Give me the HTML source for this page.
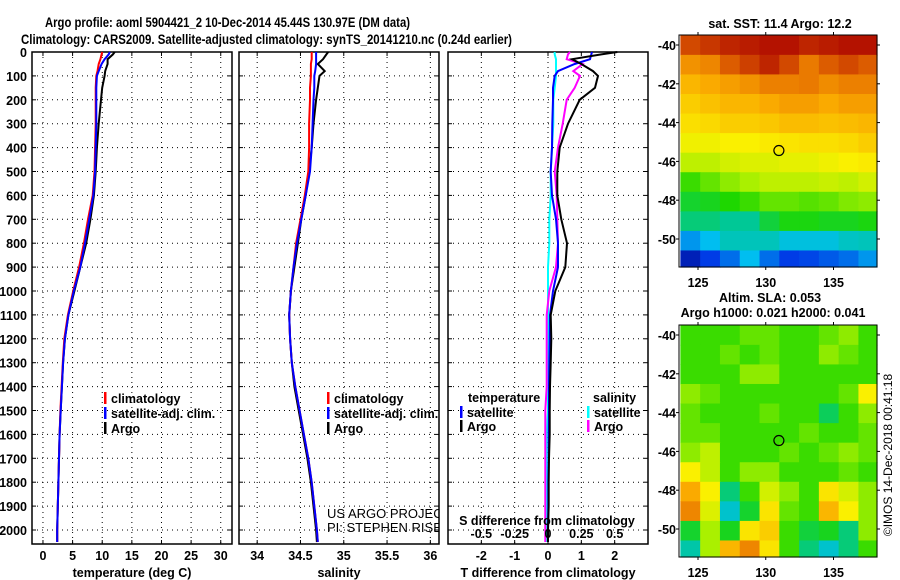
<!DOCTYPE html>
<html><head><meta charset="utf-8"><style>
body{margin:0;background:#fff;}
svg{display:block;font-family:"Liberation Sans",Arial,sans-serif;font-weight:bold;}
</style></head><body>
<svg id="chart" width="900" height="580" viewBox="0 0 900 580">
<defs><clipPath id="p2clip"><rect x="239" y="52" width="200" height="492"/></clipPath></defs>
<text x="45" y="27" font-size="13.5" textLength="365" lengthAdjust="spacingAndGlyphs">Argo profile: aoml 5904421_2 10-Dec-2014 45.44S 130.97E (DM data)</text>
<text x="21" y="44" font-size="13.5" textLength="491" lengthAdjust="spacingAndGlyphs">Climatology: CARS2009. Satellite-adjusted climatology: synTS_20141210.nc (0.24d earlier)</text>
<g id="g"></g>
</svg>
<script>
// ---------- data ----------
const depthTicks=[0,100,200,300,400,500,600,700,800,900,1000,1100,1200,1300,1400,1500,1600,1700,1800,1900,2000];
const tempTicks=[0,5,10,15,20,25,30];
const salTicks=[34,34.5,35,35.5,36];
const tdiffTicks=[-2,-1,0,1,2];
const sdiffTicks=[-0.5,-0.25,0,0.25,0.5];
const sdiffTickLabels=["-0.5","-0.25","0","0.25","0.5"];
const depths=[0,10,30,50,80,100,150,200,300,400,500,600,700,800,900,1000,1100,1200,1300,1400,1500,1600,1700,1800,1900,2000,2050];
const tempArgo=[12.1,11.8,10.9,10.9,10.5,10.4,10.0,9.8,9.4,9.1,8.9,8.6,8.0,7.3,6.3,5.3,4.3,3.7,3.4,3.2,3.0,2.8,2.7,2.6,2.5,2.4,2.4];
const tempClim=[10.0,9.9,9.7,9.4,9.2,9.0,8.9,8.9,8.9,8.8,8.7,8.4,7.6,6.9,6.1,5.1,4.2,3.6,3.35,3.15,2.95,2.8,2.7,2.6,2.5,2.4,2.4];
const tempSat=[11.3,11.1,10.4,9.9,9.4,9.1,9.0,9.0,9.0,8.9,8.8,8.5,7.8,7.1,6.3,5.2,4.3,3.7,3.4,3.2,3.0,2.8,2.7,2.6,2.5,2.4,2.4];
const salArgo=[34.82,34.80,34.76,34.70,34.78,34.72,34.70,34.68,34.65,34.63,34.60,34.56,34.51,34.47,34.43,34.39,34.37,34.38,34.40,34.43,34.48,34.53,34.58,34.62,34.65,34.68,34.69];
const salClim=[34.63,34.63,34.63,34.62,34.62,34.62,34.61,34.61,34.60,34.60,34.59,34.55,34.50,34.45,34.42,34.39,34.37,34.38,34.40,34.44,34.49,34.54,34.59,34.63,34.66,34.69,34.70];
const salSat=[34.68,34.68,34.68,34.68,34.67,34.66,34.66,34.65,34.64,34.63,34.61,34.56,34.51,34.46,34.42,34.39,34.37,34.38,34.40,34.44,34.49,34.54,34.59,34.63,34.66,34.69,34.70];
const tdiffArgo=[2.08,1.6,0.72,1.0,1.35,1.5,1.41,0.95,0.6,0.35,0.28,0.28,0.4,0.57,0.52,0.22,0.08,0.1,0.08,0.06,0.05,0.05,0.03,0.02,0.02,0.0,0.0];
const tdiffSat=[1.32,1.3,1.26,0.8,0.3,0.2,0.15,0.15,0.13,0.12,0.08,0.12,0.24,0.3,0.3,0.15,0.06,0.05,0.04,0.03,0.03,0.02,0.02,0.01,0.01,0.0,0.0];
const sdiffSat=[0.05,0.05,0.06,0.06,0.06,0.06,0.05,0.04,0.04,0.03,0.02,0.02,0.01,0.01,0.0,0.0,0.0,0.0,0.0,0.0,0.0,-0.01,-0.01,-0.01,-0.01,-0.01,-0.01];
const sdiffArgo=[0.165,0.15,0.14,0.26,0.19,0.24,0.2,0.14,0.11,0.075,0.05,0.065,0.07,0.075,0.06,0.01,-0.01,-0.01,-0.01,-0.01,-0.02,-0.02,-0.02,-0.02,-0.02,-0.02,-0.02];
const latTicks=[-40,-42,-44,-46,-48,-50];
const lonTicks=[125,130,135];
const argoLon=130.97, argoLat=-45.44;
const sstGrid=[
[0.92,0.94,0.96,0.97,0.98,0.98,0.96,0.97,0.98,0.98],
[0.82,0.84,0.9,0.93,0.96,0.92,0.86,0.9,0.92,0.9],
[0.76,0.78,0.8,0.82,0.85,0.85,0.86,0.83,0.85,0.85],
[0.72,0.74,0.76,0.76,0.78,0.8,0.8,0.78,0.8,0.8],
[0.69,0.7,0.72,0.72,0.73,0.75,0.75,0.74,0.75,0.76],
[0.65,0.65,0.66,0.66,0.67,0.68,0.69,0.69,0.7,0.72],
[0.6,0.6,0.62,0.63,0.63,0.64,0.64,0.65,0.66,0.67],
[0.5,0.53,0.56,0.58,0.6,0.6,0.6,0.61,0.6,0.62],
[0.45,0.46,0.48,0.5,0.53,0.53,0.52,0.53,0.55,0.56],
[0.4,0.4,0.38,0.38,0.44,0.47,0.47,0.46,0.46,0.47],
[0.24,0.28,0.34,0.34,0.34,0.3,0.3,0.3,0.33,0.34],
[0.08,0.15,0.2,0.28,0.2,0.15,0.16,0.18,0.2,0.24]];
const slaGrid=[
[.5,.5,.5,.53,.53,.5,.5,.53,.56,.5],
[.5,.5,.53,.5,.53,.5,.5,.56,.53,.5],
[.5,.5,.5,.56,.56,.5,.5,.5,.5,.5],
[.56,.53,.5,.5,.5,.5,.5,.5,.53,.66],
[.53,.5,.5,.5,.53,.5,.5,.42,.5,.56],
[.53,.53,.5,.5,.5,.5,.53,.5,.5,.53],
[.56,.6,.5,.5,.5,.53,.5,.53,.56,.53],
[.66,.6,.5,.56,.56,.5,.5,.5,.53,.5],
[.78,.66,.4,.5,.62,.56,.5,.68,.62,.56],
[.84,.63,.32,.45,.68,.53,.5,.76,.66,.56],
[.45,.58,.46,.68,.72,.5,.44,.46,.4,.56],
[.36,.58,.76,.84,.68,.5,.4,.32,.4,.5]];

// ---------- helpers ----------
const NS="http://www.w3.org/2000/svg";
const G=document.getElementById('g');
function mk(tag,attrs,parent,txt){const e=document.createElementNS(NS,tag);for(const k in attrs)e.setAttribute(k,attrs[k]);if(txt!==undefined)e.textContent=txt;(parent||G).appendChild(e);return e;}
const PT=52, PB=544;
const yD=d=>PT+d*0.239;
const FS=12.5;
const panels=[
 {name:'temperature',x0:32,x1:232,v0:-1.85,v1:31.9,ticks:tempTicks,labels:tempTicks.map(String),title:'temperature (deg C)'},
 {name:'salinity',x0:239,x1:439,v0:33.79,v1:36.1,ticks:salTicks,labels:salTicks.map(String),title:'salinity'},
 {name:'difference',x0:448,x1:648,v0:-3,v1:3,ticks:tdiffTicks,labels:tdiffTicks.map(String),title:'T difference from climatology'}];
panels.forEach(p=>p.sx=v=>p.x0+(v-p.v0)/(p.v1-p.v0)*(p.x1-p.x0));
const sxS=v=>panels[2].sx(v*4);

panels.forEach((p,i)=>{
  const g=mk('g',{});
  
  
  depthTicks.forEach(d=>{const y=yD(d);
    if(d>0){const l=mk('line',{x1:p.x0,x2:p.x1,y1:y,y2:y,stroke:'#000','stroke-width':1,'stroke-dasharray':'1,4'},g);
      }
    mk('line',{x1:p.x0,x2:p.x0+4,y1:y,y2:y,stroke:'#000'},g);mk('line',{x1:p.x1-4,x2:p.x1,y1:y,y2:y,stroke:'#000'},g);
  });
  p.ticks.forEach((t,j)=>{const x=p.sx(t);
    const l=mk('line',{x1:x,x2:x,y1:PT,y2:PB,stroke:'#000','stroke-dasharray':'1,4'},g);
    
    mk('line',{x1:x,x2:x,y1:PB-4,y2:PB,stroke:'#000'},g);mk('line',{x1:x,x2:x,y1:PT,y2:PT+4,stroke:'#000'},g);
    const tl=mk('text',{x:x,y:560,'font-size':FS,'text-anchor':'middle'},g,p.labels[j]);
    
  });
  const at=mk('text',{x:(p.x0+p.x1)/2,y:577,'font-size':FS,'text-anchor':'middle'},g,p.title);
  
  const fr=mk('rect',{x:p.x0,y:PT,width:p.x1-p.x0,height:PB-PT,fill:'none',stroke:'#000','stroke-width':1.5},g);
  
});
depthTicks.forEach(d=>{const t=mk('text',{x:27,y:yD(d)+5,'font-size':FS,'text-anchor':'end'},G,String(d));
  });

function line(vals,sx,color,name,w){
  const pts=vals.map((v,i)=>sx(v).toFixed(1)+','+yD(depths[i]).toFixed(1)).join(' ');
  const pl=mk('polyline',{points:pts,fill:'none',stroke:color,'stroke-width':w||2});
  
  
}
const P=panels;
line(tempArgo,P[0].sx,'#000','temp-argo-line');
line(tempClim,P[0].sx,'#f00','temp-climatology-line');
line(tempSat,P[0].sx,'#00f','temp-satellite-line');
line(salArgo,P[1].sx,'#000','sal-argo-line');
line(salClim,P[1].sx,'#f00','sal-climatology-line');
line(salSat,P[1].sx,'#00f','sal-satellite-line');
line(sdiffSat,sxS,'#0ff','sdiff-satellite-line');
line(sdiffArgo,sxS,'#f0f','sdiff-argo-line');
line(tdiffSat,P[2].sx,'#00f','tdiff-satellite-line');
line(tdiffArgo,P[2].sx,'#000','tdiff-argo-line');

sdiffTicks.forEach((t,j)=>{const tl=mk('text',{x:sxS(t),y:538,'font-size':FS,'text-anchor':'middle'},G,sdiffTickLabels[j]);
  });
const st=mk('text',{x:547,y:525,'font-size':FS,'text-anchor':'middle'},G,'S difference from climatology');


function legend(x,y,color,label,name){
  const g=mk('g',{});
  
  
  mk('rect',{x:x,y:y-11,width:2.5,height:12,fill:color},g);
  mk('text',{x:x+7,y:y},g,label).setAttribute('font-size',FS);
}
legend(104,403,'#f00','climatology','legend-climatology');
legend(104,418,'#00f','satellite-adj. clim.','legend-satellite-adj');
legend(104,433,'#000','Argo','legend-argo');
legend(327,403,'#f00','climatology','legend-climatology-sal');
legend(327,418,'#00f','satellite-adj. clim.','legend-satellite-adj-sal');
legend(327,433,'#000','Argo','legend-argo-sal');
let tt=mk('text',{x:468,y:402,'font-size':FS},G,'temperature');
tt=mk('text',{x:593,y:402,'font-size':FS},G,'salinity');
legend(460,417,'#00f','satellite','legend-t-satellite');
legend(460,431,'#000','Argo','legend-t-argo');
legend(587,417,'#0ff','satellite','legend-s-satellite');
legend(587,431,'#f0f','Argo','legend-s-argo');
let c1=mk('text',{x:327,y:518,'font-size':13,'font-weight':'normal','clip-path':'url(#p2clip)'},G,'US ARGO PROJECT');
c1=mk('text',{x:327,y:532,'font-size':13,'font-weight':'normal','clip-path':'url(#p2clip)'},G,'PI: STEPHEN RISER');

// ---------- maps ----------
const stops=[[0,[0,0,130]],[0.15,[0,60,230]],[0.28,[0,190,240]],[0.38,[0,200,150]],[0.48,[30,215,0]],[0.58,[170,240,0]],[0.66,[250,240,0]],[0.78,[250,170,0]],[0.88,[230,110,0]],[1,[170,0,0]]];
function cmap(v){for(let i=1;i<stops.length;i++){if(v<=stops[i][0]){const a=stops[i-1],b=stops[i],f=(v-a[0])/(b[0]-a[0]);
  const c=a[1].map((q,k)=>Math.round(q+(b[1][k]-q)*f));return 'rgb('+c.join(',')+')';}}return 'rgb(170,0,0)';}
function map(x0,y0,x1,y1,latAt40,latAt50,grid,name){
  const lonS=v=>698+(v-125)*13.55;
  const latS=v=>latAt40+(v+40)/-10*(latAt50-latAt40);
  const g=mk('g',{});
  
  
  const rows=grid.length,cols=grid[0].length;
  const lon0=123.7,lon1=138.3,lat0=-39.5,lat1=-51.6;
  for(let r=0;r<rows;r++)for(let c=0;c<cols;c++){
    const xa=lonS(lon0+(lon1-lon0)*c/cols),xb=lonS(lon0+(lon1-lon0)*(c+1)/cols);
    const ya=latS(lat0+(lat1-lat0)*r/rows),yb=latS(lat0+(lat1-lat0)*(r+1)/rows);
    const ce=mk('rect',{x:Math.max(x0,xa),y:Math.max(y0,ya),width:Math.min(x1,xb)-Math.max(x0,xa)+0.6,height:Math.min(y1,yb)-Math.max(y0,ya)+0.6,fill:cmap(grid[r][c])},g);
    
    
  }
  mk('rect',{x:x0,y:y0,width:x1-x0,height:y1-y0,fill:'none',stroke:'#000'},g);
  lonTicks.forEach(t=>{const x=lonS(t);mk('line',{x1:x,x2:x,y1:y0-3,y2:y0,stroke:'#000'},g);mk('line',{x1:x,x2:x,y1:y1,y2:y1+3,stroke:'#000'},g);
    const l=mk('text',{x:x,y:y1+20,'font-size':FS,'text-anchor':'middle'},g,String(t));});
  latTicks.forEach(t=>{const y=latS(t);mk('line',{x1:x0-3,x2:x0,y1:y,y2:y,stroke:'#000'},g);mk('line',{x1:x1,x2:x1+3,y1:y,y2:y,stroke:'#000'},g);
    const l=mk('text',{x:x0-3,y:y+5,'font-size':FS,'text-anchor':'end'},g,String(t));});
  const m=mk('circle',{cx:lonS(argoLon),cy:latS(argoLat),r:5,fill:'none',stroke:'#000','stroke-width':1.2},g);
  
}
map(679,35,877,267,45,239,sstGrid,'sst-map');
map(679,325,877,557,335,529,slaGrid,'sla-map');
let mt=mk('text',{x:780,y:28,'font-size':FS,'text-anchor':'middle'},G,'sat. SST: 11.4 Argo: 12.2');
mt=mk('text',{x:770,y:302,'font-size':FS,'text-anchor':'middle'},G,'Altim. SLA: 0.053');
mt=mk('text',{x:773,y:317,'font-size':FS,'text-anchor':'middle'},G,'Argo h1000: 0.021 h2000: 0.041');
mt=mk('text',{x:0,y:0,'font-size':12,'font-weight':'normal','text-anchor':'middle',transform:'translate(892,455) rotate(-90)'},G,'©IMOS 14-Dec-2018 00:41:18');
</script>
</body></html>
